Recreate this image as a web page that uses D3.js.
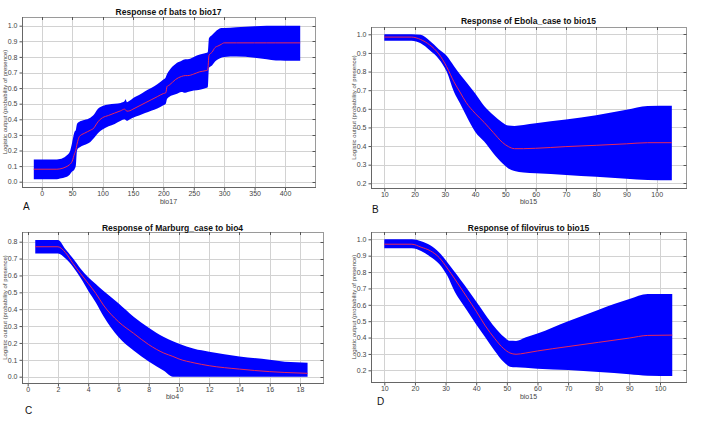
<!DOCTYPE html>
<html><head><meta charset="utf-8">
<script src="https://cdn.jsdelivr.net/npm/d3@7"></script>
<style>
body{margin:0;background:#fff}
svg{display:block}
text{font-family:"Liberation Sans",Arial,sans-serif}
</style>
</head><body>
<svg id="chart" width="705" height="422"></svg>
<script>
// ---------- Panel A: bats vs bio17 ----------
const batsX     = [-13, 25, 30, 40, 46, 50, 54, 56, 58, 60, 62, 70, 80, 86, 90, 95, 100, 110, 120, 130, 136, 138, 140, 145, 150, 160, 170, 180, 190, 200, 204, 206, 210, 220, 230, 236, 240, 250, 260, 270, 273, 275, 280, 285, 290, 295, 300, 320, 350, 370, 385, 400, 425];
const batsMean  = [0.08, 0.08, 0.082, 0.095, 0.11, 0.13, 0.18, 0.20, 0.24, 0.27, 0.29, 0.31, 0.33, 0.345, 0.37, 0.395, 0.41, 0.425, 0.44, 0.455, 0.465, 0.46, 0.452, 0.455, 0.465, 0.485, 0.505, 0.525, 0.545, 0.565, 0.57, 0.61, 0.62, 0.655, 0.675, 0.68, 0.68, 0.69, 0.705, 0.712, 0.716, 0.81, 0.83, 0.86, 0.87, 0.88, 0.89, 0.89, 0.89, 0.89, 0.89, 0.89, 0.89];
const batsUpper = [0.143, 0.143, 0.145, 0.165, 0.19, 0.25, 0.32, 0.33, 0.37, 0.38, 0.385, 0.395, 0.41, 0.43, 0.455, 0.475, 0.485, 0.495, 0.5, 0.505, 0.515, 0.528, 0.51, 0.52, 0.535, 0.555, 0.58, 0.6, 0.625, 0.655, 0.67, 0.69, 0.715, 0.755, 0.775, 0.785, 0.785, 0.8, 0.815, 0.825, 0.83, 0.92, 0.94, 0.96, 0.975, 0.985, 0.985, 0.99, 0.997, 1.0, 1.0, 1.0, 1.0];
const batsLower = [0.015, 0.015, 0.02, 0.03, 0.045, 0.065, 0.08, 0.1, 0.2, 0.215, 0.22, 0.235, 0.255, 0.28, 0.3, 0.32, 0.335, 0.355, 0.37, 0.39, 0.4, 0.395, 0.39, 0.4, 0.41, 0.425, 0.44, 0.455, 0.47, 0.49, 0.5, 0.53, 0.545, 0.56, 0.575, 0.57, 0.575, 0.585, 0.59, 0.6, 0.605, 0.73, 0.745, 0.77, 0.785, 0.795, 0.8, 0.802, 0.795, 0.785, 0.777, 0.776, 0.776];

// ---------- Panel B: Ebola_case vs bio15 ----------
const ebolaX     = [10, 19, 22, 25, 28, 30.6, 33, 35, 37, 40, 43, 46, 49, 51, 53, 56, 60, 70, 80, 90, 97, 105];
const ebolaMean  = [0.985, 0.985, 0.972, 0.943, 0.895, 0.826, 0.745, 0.69, 0.635, 0.576, 0.527, 0.473, 0.42, 0.397, 0.386, 0.386, 0.388, 0.397, 0.404, 0.412, 0.418, 0.418];
const ebolaUpper = [1.0, 1.0, 0.997, 0.965, 0.92, 0.885, 0.83, 0.785, 0.745, 0.683, 0.615, 0.567, 0.527, 0.51, 0.508, 0.513, 0.522, 0.542, 0.565, 0.595, 0.615, 0.617];
const ebolaLower = [0.966, 0.966, 0.952, 0.915, 0.868, 0.8, 0.692, 0.63, 0.565, 0.477, 0.424, 0.361, 0.307, 0.28, 0.266, 0.258, 0.254, 0.245, 0.235, 0.225, 0.218, 0.217];

// ---------- Panel C: Marburg_case vs bio4 ----------
const marburgX     = [0.5, 2, 2.5, 3, 3.5, 4, 4.5, 5, 6, 7, 8, 9, 9.6, 10, 11, 12, 14, 16, 17, 18.5];
const marburgMean  = [0.77, 0.77, 0.735, 0.67, 0.61, 0.553, 0.494, 0.425, 0.326, 0.257, 0.19, 0.14, 0.12, 0.105, 0.082, 0.065, 0.045, 0.03, 0.025, 0.02];
const marburgUpper = [0.81, 0.81, 0.755, 0.70, 0.64, 0.59, 0.55, 0.51, 0.435, 0.355, 0.29, 0.235, 0.21, 0.195, 0.165, 0.148, 0.12, 0.1, 0.088, 0.083];
const marburgLower = [0.73, 0.73, 0.70, 0.65, 0.585, 0.51, 0.44, 0.36, 0.235, 0.155, 0.09, 0.035, 0.0, 0.0, 0.0, 0.0, 0.0, 0.0, 0.0, 0.0];

// ---------- Panel D: filovirus vs bio15 ----------
const filoX     = [10, 19, 22, 25, 28, 30.5, 33, 35, 37, 40, 43, 46, 49, 51, 53, 56, 60, 70, 80, 90, 96, 104];
const filoMean  = [0.97, 0.97, 0.952, 0.93, 0.887, 0.825, 0.758, 0.702, 0.646, 0.561, 0.471, 0.395, 0.332, 0.306, 0.298, 0.305, 0.318, 0.345, 0.371, 0.397, 0.413, 0.415];
const filoUpper = [1.0, 1.0, 0.988, 0.963, 0.918, 0.862, 0.80, 0.75, 0.70, 0.62, 0.54, 0.465, 0.405, 0.38, 0.379, 0.40, 0.425, 0.50, 0.57, 0.635, 0.666, 0.666];
const filoLower = [0.945, 0.945, 0.928, 0.894, 0.848, 0.78, 0.68, 0.62, 0.565, 0.48, 0.40, 0.32, 0.25, 0.222, 0.218, 0.215, 0.21, 0.202, 0.19, 0.176, 0.167, 0.165];

// ---------- Text and ticks ----------
const titles   = ["Response of bats to bio17", "Response of Ebola_case to bio15", "Response of Marburg_case to bio4", "Response of filovirus to bio15"];
const letters  = ["A", "B", "C", "D"];
const xLabels  = ["bio17", "bio15", "bio4", "bio15"];
const yLabel   = "Logistic output (probability of presence)";
const xTicksA  = [0, 50, 100, 150, 200, 250, 300, 350, 400];
const xTicksB  = [10, 20, 30, 40, 50, 60, 70, 80, 90, 100];
const xTicksC  = [0, 2, 4, 6, 8, 10, 12, 14, 16, 18];
const xTicksD  = [10, 20, 30, 40, 50, 60, 70, 80, 90, 100];
const yTicksA  = [0, 0.1, 0.2, 0.3, 0.4, 0.5, 0.6, 0.7, 0.8, 0.9, 1.0];
const yTicksB  = [0.2, 0.3, 0.4, 0.5, 0.6, 0.7, 0.8, 0.9, 1.0];
const yTicksC  = [0, 0.1, 0.2, 0.3, 0.4, 0.5, 0.6, 0.7, 0.8];
const yTicksD  = [0.2, 0.3, 0.4, 0.5, 0.6, 0.7, 0.8, 0.9, 1.0];

// ---------- Layout ----------
const panels = [
  {x: batsX, mean: batsMean, up: batsUpper, lo: batsLower, xt: xTicksA, yt: yTicksA,
   frame: {l: 22, t: 17, r: 315, b: 187}, xd: [0, 400], xr: [41.7, 285], yd: [0, 1], yr: [181.7, 25.7],
   titleY: 15.3, xlabY: 204, ylabX: 6.5, letterX: 23, letterY: 210},
  {x: ebolaX, mean: ebolaMean, up: ebolaUpper, lo: ebolaLower, xt: xTicksB, yt: yTicksB,
   frame: {l: 371, t: 27, r: 686, b: 188}, xd: [10, 100], xr: [384.3, 656.7], yd: [0.2, 1], yr: [183.3, 34.3],
   titleY: 24.3, xlabY: 204, ylabX: 355.5, letterX: 372, letterY: 213},
  {x: marburgX, mean: marburgMean, up: marburgUpper, lo: marburgLower, xt: xTicksC, yt: yTicksC,
   frame: {l: 22, t: 232, r: 323, b: 383}, xd: [0, 18], xr: [27.7, 300], yd: [0, 0.8], yr: [376.7, 241.7],
   titleY: 231, xlabY: 399.3, ylabX: 6.5, letterX: 25, letterY: 414},
  {x: filoX, mean: filoMean, up: filoUpper, lo: filoLower, xt: xTicksD, yt: yTicksD,
   frame: {l: 371, t: 232, r: 686, b: 382}, xd: [10, 100], xr: [384.3, 660], yd: [0.2, 1], yr: [370.3, 239.3],
   titleY: 231, xlabY: 399.3, ylabX: 355.5, letterX: 377, letterY: 405}
];

const svg = d3.select("#chart");
svg.append("rect").attr("width", 705).attr("height", 422).attr("fill", "#fff");

panels.forEach((p, i) => {
  const f = p.frame;
  const x = d3.scaleLinear().domain(p.xd).range(p.xr);
  const y = d3.scaleLinear().domain(p.yd).range(p.yr);
  const g = svg.append("g");

  // grid
  g.selectAll(".gx").data(p.xt).enter().append("line")
    .attr("x1", d => Math.round(x(d)) + 0.5).attr("x2", d => Math.round(x(d)) + 0.5)
    .attr("y1", f.t).attr("y2", f.b).attr("stroke", "#d2d2d2").attr("stroke-width", 1);
  g.selectAll(".gy").data(p.yt).enter().append("line")
    .attr("y1", d => Math.round(y(d)) + 0.5).attr("y2", d => Math.round(y(d)) + 0.5)
    .attr("x1", f.l).attr("x2", f.r).attr("stroke", "#d2d2d2").attr("stroke-width", 1);

  const pts = p.x.map((xv, k) => ({x: xv, m: p.mean[k], u: p.up[k], l: p.lo[k]}));
  const area = d3.area().x(d => x(d.x)).y0(d => y(d.l)).y1(d => y(d.u)).curve(d3.curveMonotoneX);
  const line = d3.line().x(d => x(d.x)).y(d => y(d.m)).curve(d3.curveMonotoneX);
  g.append("path").datum(pts).attr("d", area).attr("fill", "#0000ff");
  g.append("path").datum(pts).attr("d", line).attr("fill", "none").attr("stroke", "#e8285a").attr("stroke-width", 1);

  // frame
  g.append("rect").attr("x", f.l + 0.5).attr("y", f.t + 0.5).attr("width", f.r - f.l).attr("height", f.b - f.t)
    .attr("fill", "none").attr("stroke", "#9a9a9a");
  // inner ticks on top and right
  g.selectAll(".tt").data(p.xt).enter().append("line")
    .attr("x1", d => Math.round(x(d)) + 0.5).attr("x2", d => Math.round(x(d)) + 0.5)
    .attr("y1", f.t).attr("y2", f.t + 3).attr("stroke", "#555");
  g.selectAll(".tr").data(p.yt).enter().append("line")
    .attr("y1", d => Math.round(y(d)) + 0.5).attr("y2", d => Math.round(y(d)) + 0.5)
    .attr("x1", f.r + 0.5).attr("x2", f.r - 2.5).attr("stroke", "#555");

  // axes
  const xa = g.append("g").attr("transform", `translate(0,${f.b + 0.5})`)
    .call(d3.axisBottom(x).tickValues(p.xt).tickSize(3).tickPadding(1).tickFormat(d3.format("d")));
  const ya = g.append("g").attr("transform", `translate(${f.l + 0.5},0)`)
    .call(d3.axisLeft(y).tickValues(p.yt).tickSize(3).tickPadding(2).tickFormat(d3.format(".1f")));
  [xa, ya].forEach(a => {
    a.select(".domain").remove();
    a.selectAll("line").attr("stroke", "#555");
    a.selectAll("text").attr("fill", "#444").style("font-size", "7px").style("font-family", '"Liberation Sans",Arial,sans-serif');
  });
  g.append("line").attr("x1", f.l + 0.5).attr("x2", f.l + 0.5).attr("y1", f.t).attr("y2", f.b + 1).attr("stroke", "#666");
  g.append("line").attr("x1", f.l).attr("x2", f.r + 1).attr("y1", f.b + 0.5).attr("y2", f.b + 0.5).attr("stroke", "#666");

  // texts
  const cx = (f.l + f.r) / 2;
  g.append("text").attr("x", cx).attr("y", p.titleY).attr("text-anchor", "middle")
    .attr("font-size", "8.5px").attr("font-weight", "bold").attr("fill", "#111").text(titles[i]);
  g.append("text").attr("x", cx).attr("y", p.xlabY).attr("text-anchor", "middle")
    .attr("font-size", "7px").attr("fill", "#444").text(xLabels[i]);
  g.append("text").attr("transform", `translate(${p.ylabX},${(f.t + f.b) / 2}) rotate(-90)`)
    .attr("text-anchor", "middle").attr("font-size", "6px").attr("fill", "#444").text(yLabel);
  g.append("text").attr("x", p.letterX).attr("y", p.letterY)
    .attr("font-size", "10px").attr("fill", "#111").text(letters[i]);
});
</script>
</body></html>
